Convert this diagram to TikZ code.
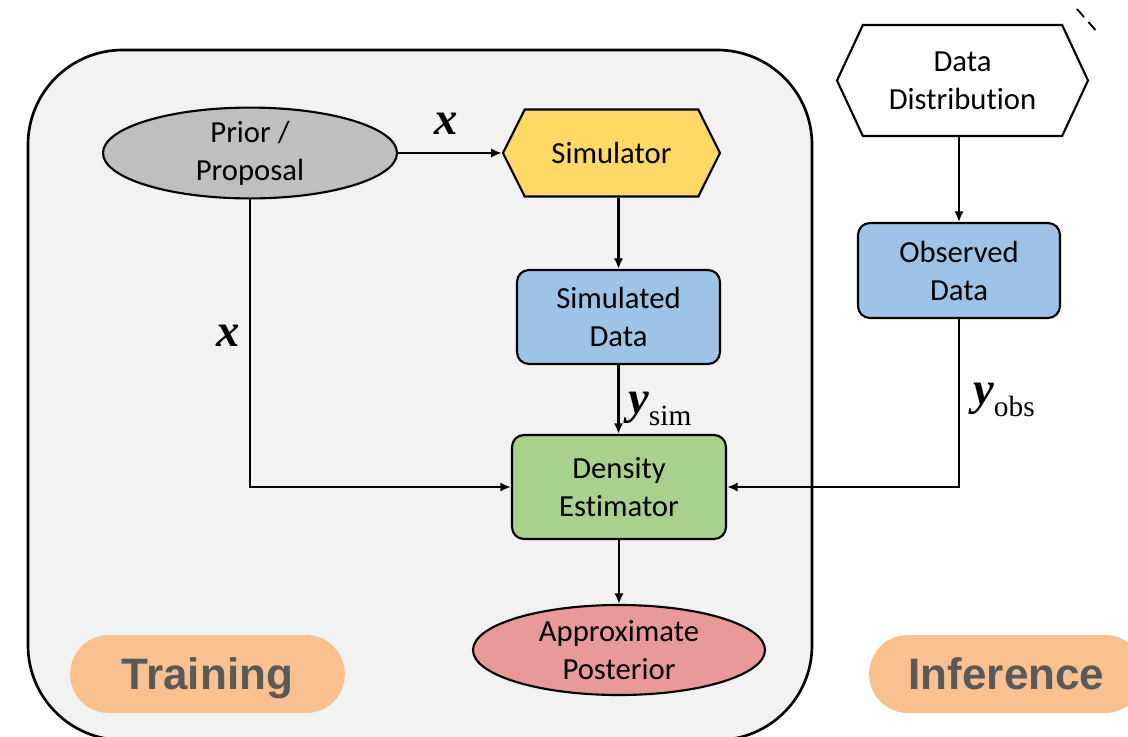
\documentclass[tikz,border=0pt]{standalone}
\usepackage{fontspec}
\setmainfont{Carlito}[Ligatures=NoCommon]
\newfontfamily\tagfont{Liberation Sans}
\newfontfamily\varfont{Liberation Serif}
\usetikzlibrary{shapes.geometric,shapes.symbols,arrows.meta}

\definecolor{panelfill}{HTML}{F2F2F2}
\definecolor{priorgray}{HTML}{BFBFBF}
\definecolor{simyellow}{HTML}{FFD966}
\definecolor{databLue}{HTML}{9DC3E6}
\definecolor{estgreen}{HTML}{A9D18E}
\definecolor{postred}{HTML}{EA9999}
\definecolor{pillorange}{HTML}{F8C18F}
\definecolor{pilltext}{HTML}{595959}

\tikzset{
  base/.style={draw=black, line width=1.6pt, font=\fontsize{23}{28.5}\selectfont, align=center, inner sep=0pt},
  roundbox/.style={base, rectangle, rounded corners=9pt},
  oval/.style={base, ellipse},
  hexa/.style={base, signal, signal to=west and east},
  pill/.style={rectangle, rounded corners=29pt, fill=pillorange, text=pilltext,
    font=\tagfont\bfseries\fontsize{33}{33}\selectfont, text height=23.6pt, text depth=0pt,
    minimum width=206pt, minimum height=58.5pt},
  link/.style={line width=1.7pt, -{Latex[length=8pt,width=7pt]}},
  varlabel/.style={font=\varfont\bfseries\itshape\fontsize{35}{35}\selectfont, inner sep=0pt},
}
\newcommand{\subtxt}[1]{\raisebox{-9pt}{\varfont\mdseries\upshape\fontsize{22}{22}\selectfont #1}}

\begin{document}
\begin{tikzpicture}[x=0.75pt, y=-0.75pt]
  \clip (0,0) rectangle (1128,736);

  % training panel
  \draw[line width=2pt, fill=panelfill, rounded corners=71pt] (28,50) rectangle (812,740);

  % stage tags
  \node[pill] (train) at (207.5,674) {Training};
  \node[pill] (infer) at (1006.5,674) {Inference};

  % nodes
  \node[oval, fill=priorgray, minimum width=220.5pt, minimum height=66.75pt] (prior) at (250,153) {Prior /\\Proposal};
  \node[hexa, fill=simyellow, minimum width=162.75pt, minimum height=65.25pt, signal pointer angle=127] (sim) at (611.5,153) {Simulator};
  \node[roundbox, fill=databLue, minimum width=152.25pt, minimum height=70.5pt] (simdata) at (618.5,317) {Simulated\\Data};
  \node[roundbox, fill=estgreen, minimum width=160.5pt, minimum height=78pt] (est) at (619,487) {Density\\Estimator};
  \node[oval, fill=postred, minimum width=219pt, minimum height=67.5pt] (post) at (619,650) {Approximate\\Posterior};
  \node[hexa, fill=white, minimum width=188.25pt, minimum height=83.25pt, signal pointer angle=130] (dist) at (962.5,80.5) {Data\\Distribution};
  \node[roundbox, fill=databLue, minimum width=151.5pt, minimum height=71.25pt] (obs) at (959,270.5) {Observed\\Data};

  % connectors
  \draw[link] (prior.east) -- (sim.west);
  \draw[link] (prior.south) |- (est.west);
  \draw[link] (sim.south -| simdata.north) -- (simdata.north);
  \draw[link] (simdata.south) -- (simdata.south |- est.north);
  \draw[link] (dist.south -| obs.north) -- (obs.north);
  \draw[link] (obs.south) |- (est.east);
  \draw[link] (est.south) -- (est.south -| post.north) -- (post.north);

  % connector labels
  \node[varlabel] (xtop) at (446,124) {x};
  \node[varlabel] (xleft) at (228,336) {x};
  \node[varlabel, anchor=base west] (ysim) at (628,413) {y\subtxt{sim}};
  \node[varlabel, anchor=base west] (yobs) at (973,404) {y\subtxt{obs}};

  % dashed outline fragment at the top edge
  \coordinate (dashA) at (1077,9);
  \coordinate (dashB) at (1098,33);
  \draw[line width=1.4pt, dash pattern=on 8pt off 5pt] (dashA) -- (dashB);
\end{tikzpicture}
\end{document}
